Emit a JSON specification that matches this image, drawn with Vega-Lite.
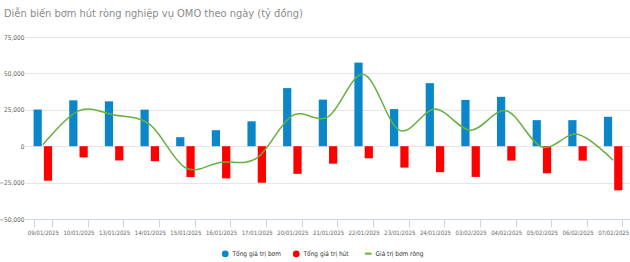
{
  "$schema": "https://vega.github.io/schema/vega-lite/v6.json",
  "autosize": {"type": "none"},
  "width": 606,
  "height": 182,
  "padding": {"left": 25, "top": 37, "right": 0, "bottom": 43},
  "background": "white",
  "title": {
    "text": "Diễn biến bơm hút ròng nghiệp vụ OMO theo ngày (tỷ đồng)",
    "anchor": "start",
    "frame": "group",
    "fontSize": 11,
    "fontWeight": "normal",
    "color": "#8a8a8a",
    "dx": -21,
    "offset": 15
  },
  "config": {
    "view": {"stroke": null},
    "font": "DejaVu Sans Condensed, Liberation Sans, sans-serif"
  },
  "datasets": {
    "bars": [
      {"date": "09/01/2025", "series": "Tổng giá trị bơm", "value": 25200},
      {"date": "09/01/2025", "series": "Tổng giá trị hút", "value": -23700},
      {"date": "10/01/2025", "series": "Tổng giá trị bơm", "value": 31500},
      {"date": "10/01/2025", "series": "Tổng giá trị hút", "value": -7700},
      {"date": "13/01/2025", "series": "Tổng giá trị bơm", "value": 30800},
      {"date": "13/01/2025", "series": "Tổng giá trị hút", "value": -9800},
      {"date": "14/01/2025", "series": "Tổng giá trị bơm", "value": 25100},
      {"date": "14/01/2025", "series": "Tổng giá trị hút", "value": -10300},
      {"date": "15/01/2025", "series": "Tổng giá trị bơm", "value": 6200},
      {"date": "15/01/2025", "series": "Tổng giá trị hút", "value": -21200},
      {"date": "16/01/2025", "series": "Tổng giá trị bơm", "value": 11000},
      {"date": "16/01/2025", "series": "Tổng giá trị hút", "value": -22100},
      {"date": "17/01/2025", "series": "Tổng giá trị bơm", "value": 17100},
      {"date": "17/01/2025", "series": "Tổng giá trị hút", "value": -25100},
      {"date": "20/01/2025", "series": "Tổng giá trị bơm", "value": 39900},
      {"date": "20/01/2025", "series": "Tổng giá trị hút", "value": -19000},
      {"date": "21/01/2025", "series": "Tổng giá trị bơm", "value": 32000},
      {"date": "21/01/2025", "series": "Tổng giá trị hút", "value": -12000},
      {"date": "22/01/2025", "series": "Tổng giá trị bơm", "value": 57400},
      {"date": "22/01/2025", "series": "Tổng giá trị hút", "value": -8300},
      {"date": "23/01/2025", "series": "Tổng giá trị bơm", "value": 25500},
      {"date": "23/01/2025", "series": "Tổng giá trị hút", "value": -14700},
      {"date": "24/01/2025", "series": "Tổng giá trị bơm", "value": 43300},
      {"date": "24/01/2025", "series": "Tổng giá trị hút", "value": -17900},
      {"date": "03/02/2025", "series": "Tổng giá trị bơm", "value": 31800},
      {"date": "03/02/2025", "series": "Tổng giá trị hút", "value": -21100},
      {"date": "04/02/2025", "series": "Tổng giá trị bơm", "value": 33900},
      {"date": "04/02/2025", "series": "Tổng giá trị hút", "value": -9900},
      {"date": "05/02/2025", "series": "Tổng giá trị bơm", "value": 17900},
      {"date": "05/02/2025", "series": "Tổng giá trị hút", "value": -18600},
      {"date": "06/02/2025", "series": "Tổng giá trị bơm", "value": 17900},
      {"date": "06/02/2025", "series": "Tổng giá trị hút", "value": -9900},
      {"date": "07/02/2025", "series": "Tổng giá trị bơm", "value": 20200},
      {"date": "07/02/2025", "series": "Tổng giá trị hút", "value": -30300}
    ],
    "net": [
      {"date": "09/01/2025", "net": 1000},
      {"date": "10/01/2025", "net": 24300},
      {"date": "13/01/2025", "net": 21500},
      {"date": "14/01/2025", "net": 15000},
      {"date": "15/01/2025", "net": -14800},
      {"date": "16/01/2025", "net": -11000},
      {"date": "17/01/2025", "net": -8200},
      {"date": "20/01/2025", "net": 21000},
      {"date": "21/01/2025", "net": 20200},
      {"date": "22/01/2025", "net": 49300},
      {"date": "23/01/2025", "net": 11000},
      {"date": "24/01/2025", "net": 25500},
      {"date": "03/02/2025", "net": 11000},
      {"date": "04/02/2025", "net": 24300},
      {"date": "05/02/2025", "net": -500},
      {"date": "06/02/2025", "net": 8200},
      {"date": "07/02/2025", "net": -9700}
    ]
  },
  "encoding": {
    "x": {
      "field": "date",
      "type": "nominal",
      "scale": {
        "domain": ["09/01/2025","10/01/2025","13/01/2025","14/01/2025","15/01/2025","16/01/2025","17/01/2025","20/01/2025","21/01/2025","22/01/2025","23/01/2025","24/01/2025","03/02/2025","04/02/2025","05/02/2025","06/02/2025","07/02/2025"],
        "paddingInner": 0.48,
        "paddingOuter": 0.24
      },
      "axis": {
        "title": null,
        "labelAngle": 0,
        "labelFontSize": 6,
        "labelColor": "#666666",
        "labelPadding": 2,
        "tickBand": "extent",
        "tickSize": 8,
        "tickColor": "#ccd6eb",
        "domainColor": "#ccd6eb",
        "grid": false
      }
    }
  },
  "layer": [
    {
      "data": {"name": "bars"},
      "mark": {"type": "bar"},
      "encoding": {
        "xOffset": {"field": "series", "type": "nominal", "scale": {"domain": ["Tổng giá trị bơm", "Tổng giá trị hút"], "paddingInner": 0.2}},
        "y": {
          "field": "value",
          "type": "quantitative",
          "scale": {"domain": [-50000, 75000], "nice": false},
          "axis": {
            "title": null,
            "values": [-50000, -25000, 0, 25000, 50000, 75000],
            "format": ",d",
            "labelFontSize": 6.5,
            "labelColor": "#666666",
            "labelPadding": 1,
            "ticks": false,
            "domain": false,
            "gridColor": "#e6e6e6",
            "gridWidth": 1
          }
        },
        "color": {
          "field": "series",
          "type": "nominal",
          "scale": {
            "domain": ["Tổng giá trị bơm", "Tổng giá trị hút", "Giá trị bơm ròng"],
            "range": ["#0b87c9", "#ff0000", "#66b040"]
          },
          "legend": {
            "title": null,
            "orient": "none",
            "direction": "horizontal",
            "legendX": 197,
            "legendY": 213,
            "padding": 0,
            "columnPadding": 11,
            "symbolSize": 45,
            "labelFontSize": 6.5,
            "labelColor": "#333333",
            "labelOffset": 4,
            "encode": {
              "symbols": {
                "update": {
                  "shape": {"signal": "datum.value === 'Giá trị bơm ròng' ? 'stroke' : 'circle'"},
                  "fill": {"signal": "datum.value === 'Giá trị bơm ròng' ? 'transparent' : scale('color', datum.value)"},
                  "stroke": {"signal": "scale('color', datum.value)"},
                  "strokeWidth": {"signal": "datum.value === 'Giá trị bơm ròng' ? 2 : 0"},
                  "opacity": {"value": 1}
                }
              }
            }
          }
        }
      }
    },
    {
      "data": {"name": "net"},
      "mark": {"type": "line", "interpolate": "cardinal", "strokeWidth": 1.5},
      "encoding": {
        "y": {
          "field": "net",
          "type": "quantitative",
          "scale": {"domain": [-50000, 75000], "nice": false},
          "axis": {
            "title": null,
            "values": [-50000, -25000, 0, 25000, 50000, 75000],
            "format": ",d",
            "labelFontSize": 6.5,
            "labelColor": "#666666",
            "labelPadding": 1,
            "ticks": false,
            "domain": false,
            "gridColor": "#e6e6e6",
            "gridWidth": 1
          }
        },
        "color": {"datum": "Giá trị bơm ròng"}
      }
    }
  ]
}
